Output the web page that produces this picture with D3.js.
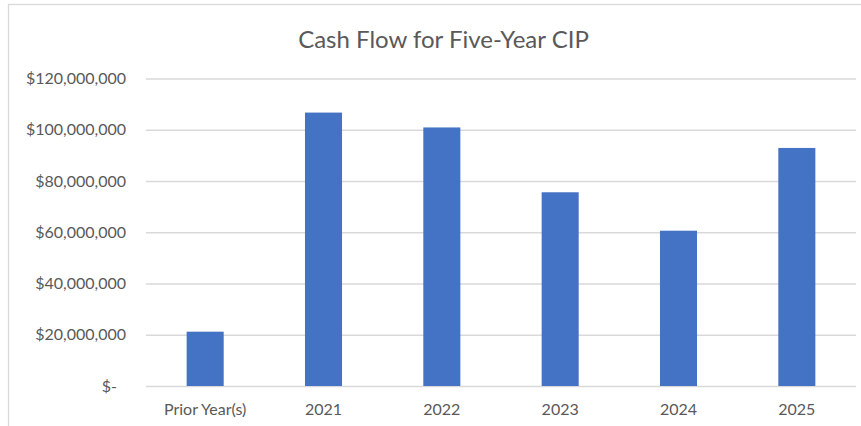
<!DOCTYPE html>
<html>
<head>
<meta charset="utf-8">
<script src="https://cdn.jsdelivr.net/npm/d3@7.9.0/dist/d3.min.js"></script>
<style>
  body { margin: 0; background: #fff; }
  svg { display: block; }
  text { font-family: Lato, "Open Sans", sans-serif; fill: #595959; }
</style>
</head>
<body>
<svg width="861" height="426"></svg>
<script>
const categories = ['Prior Year(s)', '2021', '2022', '2023', '2024', '2025'];
const cashFlow = [21200000, 106700000, 100900000, 75600000, 60600000, 92900000];
const yTicks = [0, 20000000, 40000000, 60000000, 80000000, 100000000, 120000000];
const chartTitle = 'Cash Flow for Five-Year CIP';

const svg = d3.select('svg');
const margin = { left: 146, right: 5, top: 78.5, bottom: 40 };
const width = 861, height = 426;

// chart frame
svg.append('rect')
    .attr('x', 8.5).attr('y', 4.5)
    .attr('width', 870).attr('height', 440)
    .attr('fill', 'none')
    .attr('stroke', '#d9d9d9')
    .attr('stroke-width', 1.3);

const x = d3.scaleBand()
    .domain(categories)
    .range([margin.left, width - margin.right])
    .paddingInner(0.687)
    .paddingOuter(0.3435);

const y = d3.scaleLinear()
    .domain([0, 120000000])
    .range([height - margin.bottom, margin.top]);

const fmt = (v) => v === 0 ? '$-' : '$' + d3.format(',')(v);

// gridlines and y labels
const yAxis = d3.axisLeft(y)
    .tickValues(yTicks)
    .tickSize(-(width - margin.right - margin.left))
    .tickPadding(20)
    .tickFormat(fmt);

const gy = svg.append('g')
    .attr('transform', `translate(${margin.left},0)`)
    .call(yAxis);
gy.select('.domain').remove();
gy.selectAll('.tick line').attr('stroke', '#d9d9d9').attr('stroke-width', 1.3);
gy.selectAll('.tick text')
    .style('font-size', '16px')
    .attr('dx', (d) => d === 0 ? -9 : 0);

// bars
svg.append('g')
    .selectAll('rect')
    .data(cashFlow)
    .join('rect')
    .attr('x', (d, i) => x(categories[i]))
    .attr('width', x.bandwidth())
    .attr('y', (d) => y(d))
    .attr('height', (d) => y(0) - y(d))
    .attr('fill', '#4472c4');

// x labels
const gx = svg.append('g')
    .attr('transform', `translate(0,${y(0)})`)
    .call(d3.axisBottom(x).tickSize(0).tickPadding(17.5));
gx.select('.domain').remove();
gx.selectAll('.tick text').style('font-size', '16px');

// title
svg.append('text')
    .attr('x', 443.5)
    .attr('y', 48)
    .attr('text-anchor', 'middle')
    .style('font-size', '24px')
    .text(chartTitle);
</script>
</body>
</html>
